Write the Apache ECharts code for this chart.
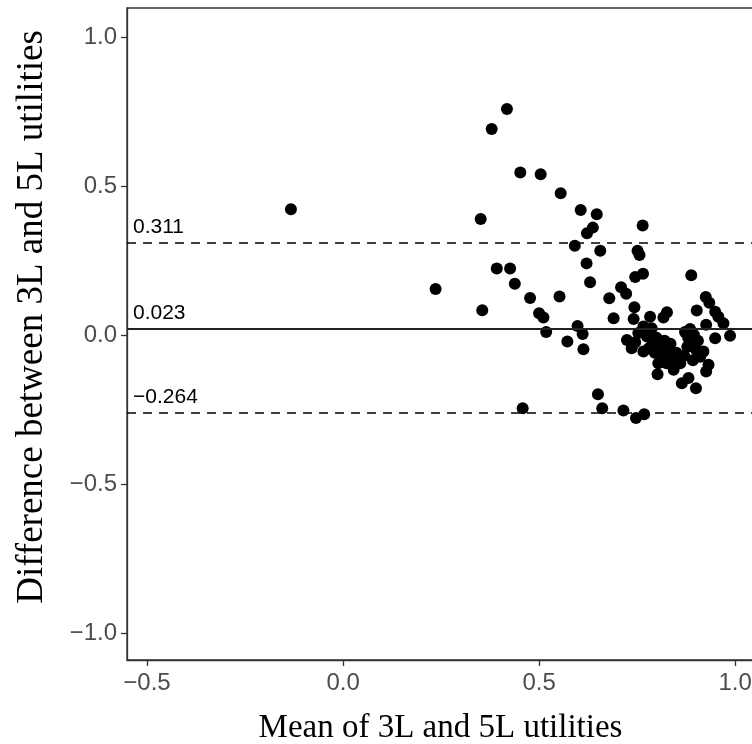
<!DOCTYPE html>
<html>

<head>
	<meta charset="UTF-8">
	<title>Bland-Altman</title>
	<style>
		html, body { margin: 0; padding: 0; background: #fff; }
		#chart { width: 752px; height: 744px; }
	</style>
	<script src="https://cdn.jsdelivr.net/npm/echarts@6/dist/echarts.min.js"></script>
</head>

<body>
	<div id="chart"></div>
	<script>
		// mean of 3L and 5L utilities (x) and their difference (y), point by point
		var meanVals = [
			-0.133, 0.236, 0.351, 0.355, 0.379, 0.392, 0.418, 0.426, 0.438, 0.452,
			0.458, 0.477, 0.500, 0.504, 0.511, 0.518, 0.552, 0.555, 0.572, 0.591,
			0.598, 0.606, 0.611, 0.613, 0.621, 0.622, 0.630, 0.637, 0.647, 0.650,
			0.656, 0.661, 0.679, 0.690, 0.709, 0.715, 0.722, 0.741, 0.743, 0.745,
			0.747, 0.751, 0.756, 0.764, 0.765, 0.768, 0.783, 0.802, 0.817, 0.826,
			0.888, 0.902, 0.925, 0.934, 0.926, 0.949, 0.957, 0.970, 0.987, 0.949,
			0.724, 0.736, 0.753, 0.766, 0.787, 0.766, 0.775, 0.790, 0.800, 0.795,
			0.810, 0.815, 0.820, 0.830, 0.825, 0.840, 0.804, 0.843, 0.850, 0.860,
			0.864, 0.881, 0.745, 0.780, 0.835,
			0.872, 0.880, 0.885, 0.890, 0.895, 0.900, 0.905, 0.911, 0.919, 0.932,
			0.926, 0.900, 0.878, 0.892, 0.870
		];
		var diffVals = [
			0.422, 0.154, 0.389, 0.083, 0.691, 0.223, 0.758, 0.223, 0.172, 0.545,
			-0.246, 0.124, 0.073, 0.539, 0.058, 0.010, 0.129, 0.475, -0.022, 0.299,
			0.030, 0.419, 0.003, -0.048, 0.240, 0.341, 0.177, 0.360, 0.405, -0.199,
			0.282, -0.246, 0.123, 0.056, 0.160, -0.254, 0.138, 0.053, 0.093, 0.194,
			-0.279, 0.282, 0.268, 0.367, 0.205, -0.266, 0.061, -0.132, 0.058, 0.076,
			0.200, 0.082, 0.127, 0.108, 0.034, 0.078, 0.061, 0.039, -0.003, -0.011,
			-0.017, -0.045, 0.006, 0.028, 0.022, -0.056, -0.005, -0.030, -0.010, -0.060,
			-0.040, -0.075, -0.020, -0.050, -0.095, -0.080, -0.095, -0.117, -0.060, -0.095,
			-0.162, -0.145, -0.025, -0.045, -0.030,
			0.010, -0.010, 0.020, -0.030, 0.000, -0.050, -0.020, -0.073, -0.056, -0.100,
			-0.123, -0.179, -0.040, -0.085, -0.070
		];
		// mean difference and limits of agreement
		var meanDiff = 0.023;
		var upperLoA = 0.311;
		var lowerLoA = -0.264;
		var xTicks = [-0.5, 0, 0.5, 1.0];
		var yTicks = [-1.0, -0.5, 0, 0.5, 1.0];

		var points = meanVals.map(function (m, i) { return [m, diffVals[i]]; });

		// ggplot style numbers: true minus sign
		function signed(v, digits) {
			var s = Math.abs(v).toFixed(digits);
			return v < 0 ? '\u2212' + s : s;
		}

		var sans = 'Liberation Sans, Arial, sans-serif';
		var serif = 'Liberation Serif, Times New Roman, serif';
		var tickFont = { color: '#4d4d4d', fontSize: 24, fontFamily: sans };
		var axisLineStyle = { color: '#333', width: 1.3 };

		var chart = echarts.init(document.getElementById('chart'));
		chart.setOption({
			animation: false,
			grid: {
				left: 127, top: 8, width: 627, height: 652,
				containLabel: false, outerBoundsMode: 'none',
				show: true, borderColor: '#333', borderWidth: 1.3, backgroundColor: '#fff'
			},
			xAxis: {
				type: 'value',
				min: -0.551, max: 1.048,
				name: 'Mean of 3L and 5L utilities',
				nameLocation: 'middle', nameGap: 52,
				nameTextStyle: { color: '#000', fontSize: 33, fontFamily: serif },
				splitLine: { show: false },
				axisLine: { show: true, onZero: false, lineStyle: axisLineStyle },
				axisTick: { show: true, length: 6, customValues: xTicks, lineStyle: axisLineStyle },
				axisLabel: Object.assign({
					margin: 11, customValues: xTicks,
					formatter: function (v) { return signed(v, 1); }
				}, tickFont)
			},
			yAxis: {
				type: 'value',
				min: -1.091, max: 1.097,
				splitLine: { show: false },
				axisLine: { show: true, onZero: false, lineStyle: axisLineStyle },
				axisTick: { show: true, length: 6, customValues: yTicks, lineStyle: axisLineStyle },
				axisLabel: Object.assign({
					margin: 10, customValues: yTicks,
					formatter: function (v) { return signed(v, 1); }
				}, tickFont)
			},
			graphic: [{
				type: 'text',
				x: 32, y: 317,
				rotation: Math.PI / 2,
				style: {
					text: 'Difference between 3L and 5L utilities',
					fill: '#000', fontSize: 37, fontFamily: serif,
					align: 'center', verticalAlign: 'middle'
				}
			}],
			series: [{
				type: 'scatter',
				data: points,
				symbolSize: 12,
				itemStyle: { color: '#000', opacity: 1 },
				markLine: {
					silent: true,
					symbol: 'none',
					label: {
						position: 'insideStartTop',
						distance: [6, 5],
						color: '#000',
						fontSize: 21,
						fontFamily: sans,
						formatter: '{b}'
					},
					data: [
						{ name: signed(upperLoA, 3), yAxis: upperLoA, lineStyle: { type: [9, 7], color: '#000', width: 1.6 } },
						{ name: signed(meanDiff, 3), yAxis: meanDiff, lineStyle: { type: 'solid', color: '#222', width: 2 } },
						{ name: signed(lowerLoA, 3), yAxis: lowerLoA, lineStyle: { type: [9, 7], color: '#000', width: 1.6 } }
					]
				}
			}]
		});
	</script>
</body>

</html>
